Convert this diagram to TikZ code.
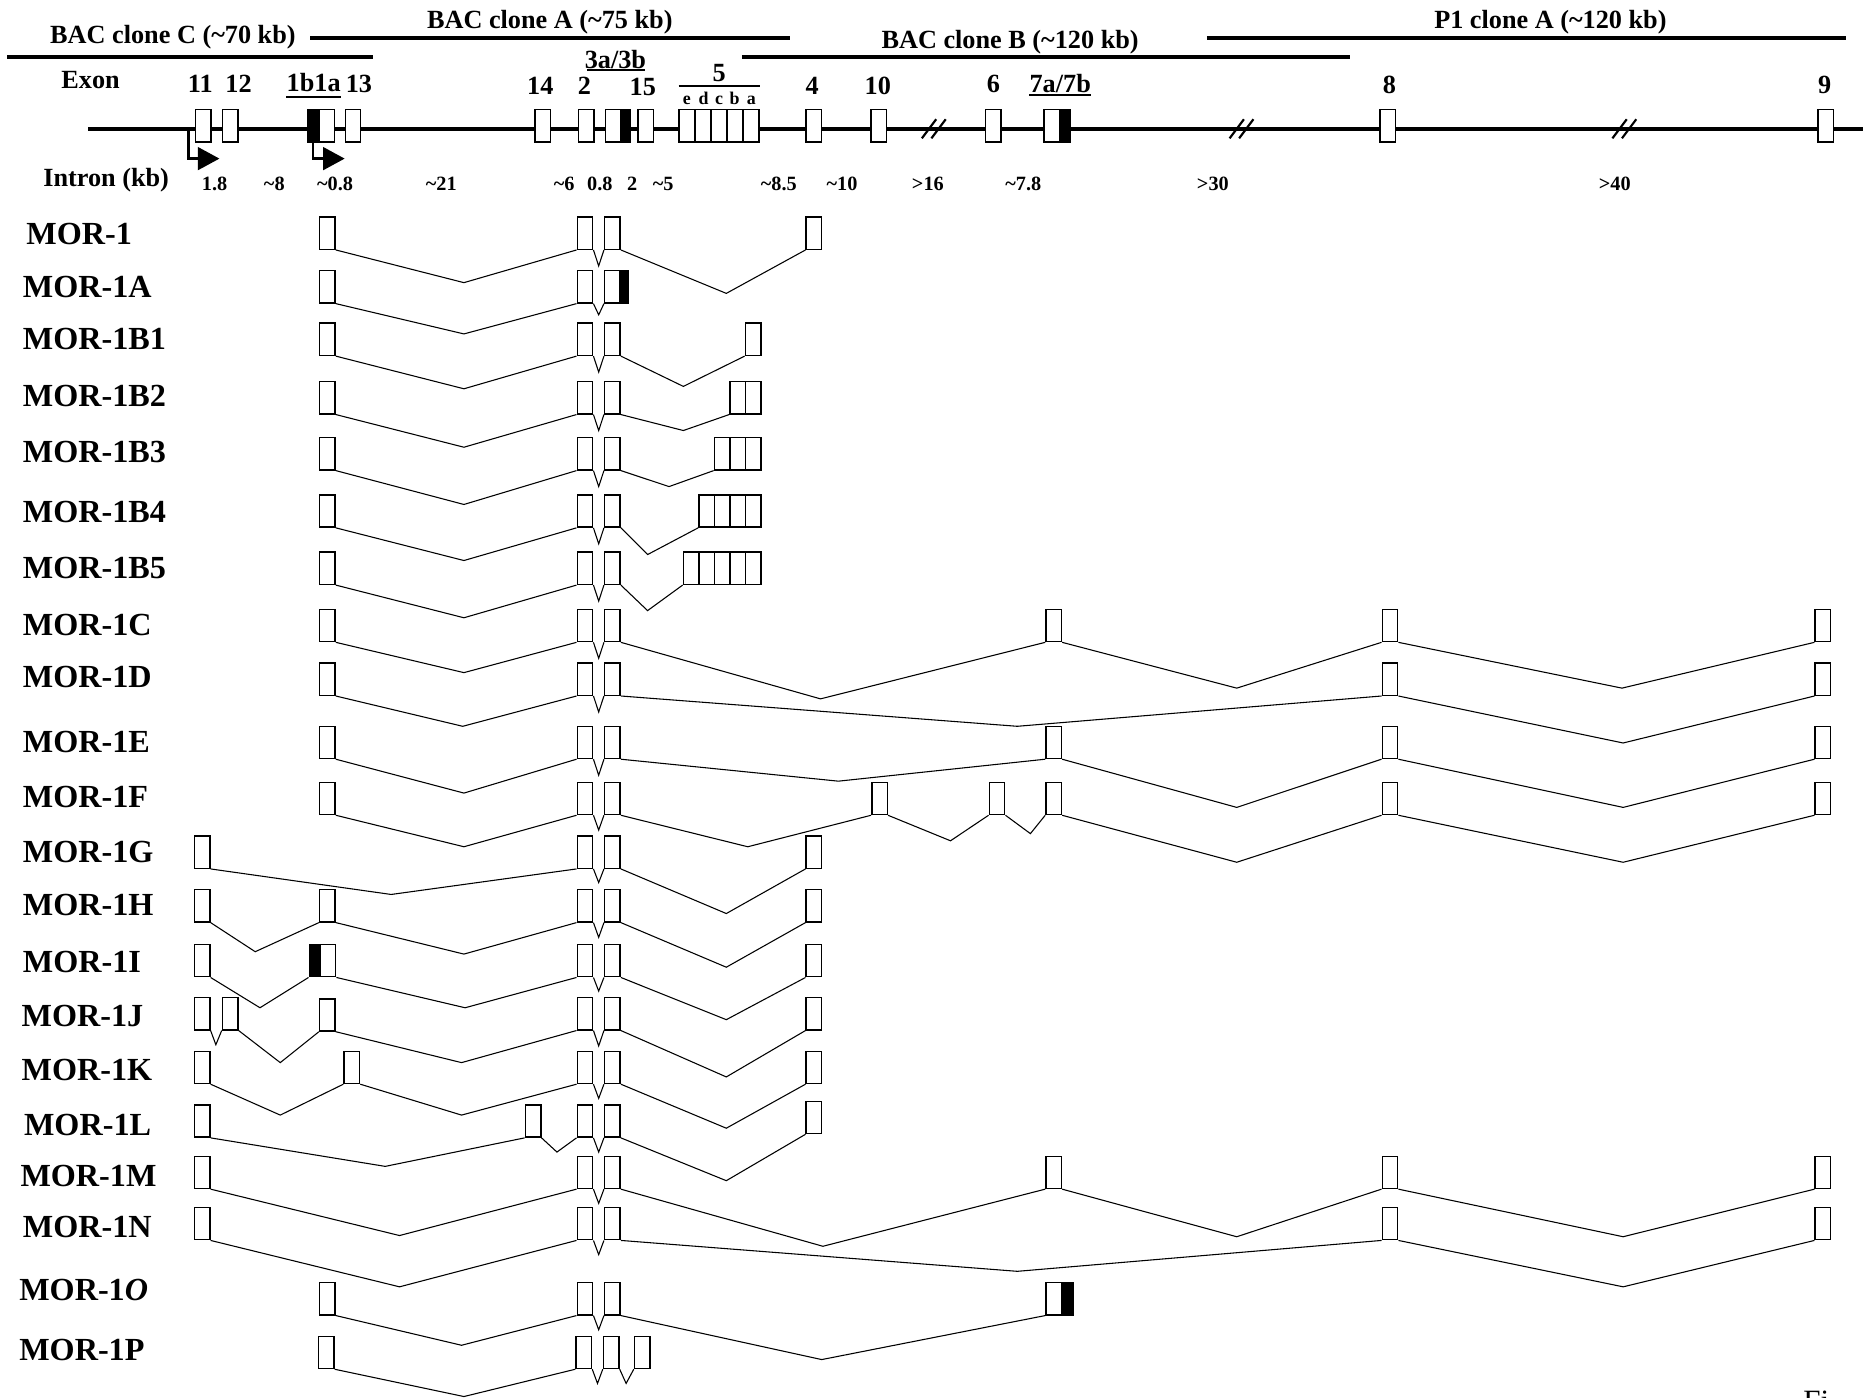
\documentclass[tikz,border=0pt]{standalone}
\usepackage{fontspec}
\setmainfont{Liberation Serif}
\usetikzlibrary{arrows.meta}

\begin{document}
\begin{tikzpicture}[
  x=1pt,y=-1pt,
  exon/.style={draw,line width=1.2pt,fill=white,minimum width=13pt,minimum height=27pt,inner sep=0pt},
  blackend/.style={exon,fill=black,minimum width=#1},
  blackend/.default=8pt,
  intron/.style={line width=0.9pt},
  clone/.style={line width=3pt},
  gene/.style={line width=3.4pt},
  slash/.style={line width=1.8pt},
  uline/.style={line width=1.8pt},
  head/.style={font=\fontsize{22}{22}\selectfont\bfseries,inner sep=0pt},
  kbtext/.style={font=\fontsize{17}{17}\selectfont\bfseries,inner sep=0pt},
  subtext/.style={font=\fontsize{15}{15}\selectfont\bfseries,inner sep=0pt,anchor=base},
  rowname/.style={font=\fontsize{27}{27}\selectfont\bfseries,inner sep=0pt,anchor=west},
  promoter/.style={line width=2pt,-{Triangle[length=18pt,width=19pt]}}
]
\useasboundingbox (0,0) rectangle (1568,1172);

% clones
\node[head] (bacA) at (461,19) {BAC clone A (\textasciitilde75 kb)};
\node[head] (bacC) at (145,31) {BAC clone C (\textasciitilde70 kb)};
\node[head] (bacB) at (847,35) {BAC clone B (\textasciitilde120 kb)};
\node[head] (p1A) at (1300,19) {P1 clone A (\textasciitilde120 kb)};
\draw[clone] (260,32) -- (662,32);
\draw[clone] (6,48) -- (313,48);
\draw[clone] (622,48) -- (1132,48);
\draw[clone] (1012,32) -- (1548,32);

% gene map
\coordinate (gstart) at (74,108);
\coordinate (gend) at (1562,108);
\draw[gene] (gstart) -- (gend);
\foreach \c in {783,1041,1362}
  \draw[slash] (\c-10,116) -- (\c+2,100) (\c-2,116) -- (\c+10,100);

\node[exon] (h11) at (170.5,105.5) {};
\node[exon] (h12) at (193,105.5) {};
\node[exon] (h1a) at (274,105.5) {};
\node[blackend,anchor=east] (h1b) at (h1a.west) {};
\node[exon] (h13) at (296,105.5) {};
\node[exon] (h14) at (455,105.5) {};
\node[exon] (h2) at (491.5,105.5) {};
\node[exon] (h3a) at (514,105.5) {};
\node[blackend=7pt,anchor=west] (h3b) at (h3a.east) {};
\node[exon] (h15) at (541.5,105.5) {};
\node[exon,minimum width=13.4pt] (h5e) at (576.2,105.5) {};
\node[exon,minimum width=13.4pt] (h5d) at (589.6,105.5) {};
\node[exon,minimum width=13.4pt] (h5c) at (603,105.5) {};
\node[exon,minimum width=13.4pt] (h5b) at (616.4,105.5) {};
\node[exon,minimum width=13.4pt] (h5a) at (629.8,105.5) {};
\node[exon] (h4) at (682.5,105.5) {};
\node[exon] (h10) at (737,105.5) {};
\node[exon] (h6) at (833,105.5) {};
\node[exon] (h7a) at (882,105.5) {};
\node[blackend,anchor=west] (h7b) at (h7a.east) {};
\node[exon] (h8) at (1163.5,105.5) {};
\node[exon] (h9) at (1531,105.5) {};

\coordinate (tss1) at (158,108);
\coordinate (tss1end) at (184,133);
\coordinate (tss2end) at (289,133);
\draw[promoter] (tss1) |- (tss1end);
\draw[promoter] (h1b.south) |- (tss2end);

% exon numbers
\node[head] (exonlab) at (76,67) {Exon};
\node[head] (n11) at (168,70) {11};
\node[head] (n12) at (200,70) {12};
\node[head] (n1b1a) at (263,69) {1b1a};
\node[head] (n13) at (301,70) {13};
\node[head] (n14) at (453,72) {14};
\node[head] (n2) at (490,72) {2};
\node[head] (n3) at (516,50) {3a/3b};
\node[head] (n15) at (539,73) {15};
\node[head] (n5) at (603,61) {5};
\node[head] (n4) at (681,72) {4};
\node[head] (n10) at (736,72) {10};
\node[head] (n6) at (833,70) {6};
\node[head] (n7) at (889,70) {7a/7b};
\node[head] (n8) at (1165,71) {8};
\node[head] (n9) at (1530,71) {9};
\draw[uline] (240,81) -- (286,81);
\draw[uline] (492,59) -- (541,59);
\draw[uline] (569,72) -- (637,72);
\draw[uline] (863,80) -- (915,80);
\node[subtext] (s5e) at (576,88) {e};
\node[subtext] (s5d) at (590,88) {d};
\node[subtext] (s5c) at (603,88) {c};
\node[subtext] (s5b) at (616,88) {b};
\node[subtext] (s5a) at (630,88) {a};

% intron sizes
\node[head] (intronlab) at (89,151) {Intron (kb)};
\node[kbtext] (k1) at (180,154) {1.8};
\node[kbtext] (k2) at (230,154) {\textasciitilde8};
\node[kbtext] (k3) at (281,154) {\textasciitilde0.8};
\node[kbtext] (k4) at (370,154) {\textasciitilde21};
\node[kbtext] (k5) at (473,154) {\textasciitilde6};
\node[kbtext] (k6) at (503,154) {0.8};
\node[kbtext] (k7) at (530,154) {2};
\node[kbtext] (k8) at (556,154) {\textasciitilde5};
\node[kbtext] (k9) at (653,154) {\textasciitilde8.5};
\node[kbtext] (k10) at (706,154) {\textasciitilde10};
\node[kbtext] (k11) at (778,154) {>16};
\node[kbtext] (k12) at (858,154) {\textasciitilde7.8};
\node[kbtext] (k13) at (1017,154) {>30};
\node[kbtext] (k14) at (1354,154) {>40};

% MOR-1
\node[rowname] (lab1) at (22,196) {MOR-1};
\node[exon] (r1-1) at (274.5,195.5) {}; \node[exon] (r1-2) at (490.5,195.5) {};
\node[exon] (r1-3) at (513.5,195.5) {}; \node[exon] (r1-4) at (682.5,195.5) {};
\draw[intron] (r1-1.south east) -- (389,237) -- (r1-2.south west)
  (r1-2.south east) -- (502,223) -- (r1-3.south west)
  (r1-3.south east) -- (609,246) -- (r1-4.south west);

% MOR-1A
\node[rowname] (labA) at (19,241) {MOR-1A};
\node[exon] (rA-1) at (274.5,240.5) {}; \node[exon] (rA-2) at (490.5,240.5) {};
\node[exon] (rA-3) at (513.5,240.5) {};
\node[blackend=6pt,anchor=west] (rA-3b) at (rA-3.east) {};
\draw[intron] (rA-1.south east) -- (389,280) -- (rA-2.south west)
  (rA-2.south east) -- (502,264) -- (rA-3.south west);

% MOR-1B1
\node[rowname] (labB1) at (19,284) {MOR-1B1};
\node[exon] (rB1-1) at (274.5,284.5) {}; \node[exon] (rB1-2) at (490.5,284.5) {};
\node[exon] (rB1-3) at (513.5,284.5) {}; \node[exon] (rB1-5a) at (631.5,284.5) {};
\draw[intron] (rB1-1.south east) -- (389,326) -- (rB1-2.south west)
  (rB1-2.south east) -- (502,312) -- (rB1-3.south west)
  (rB1-3.south east) -- (573,324) -- (rB1-5a.south west);

% MOR-1B2
\node[rowname] (labB2) at (19,332) {MOR-1B2};
\node[exon] (rB2-1) at (274.5,333.5) {}; \node[exon] (rB2-2) at (490.5,333.5) {};
\node[exon] (rB2-3) at (513.5,333.5) {};
\node[exon] (rB2-5b) at (618.5,333.5) {}; \node[exon] (rB2-5a) at (631.5,333.5) {};
\draw[intron] (rB2-1.south east) -- (389,375) -- (rB2-2.south west)
  (rB2-2.south east) -- (502,361) -- (rB2-3.south west)
  (rB2-3.south east) -- (573,361) -- (rB2-5b.south west);

% MOR-1B3
\node[rowname] (labB3) at (19,379) {MOR-1B3};
\node[exon] (rB3-1) at (274.5,380.5) {}; \node[exon] (rB3-2) at (490.5,380.5) {};
\node[exon] (rB3-3) at (513.5,380.5) {};
\node[exon] (rB3-5c) at (605.5,380.5) {}; \node[exon] (rB3-5b) at (618.5,380.5) {};
\node[exon] (rB3-5a) at (631.5,380.5) {};
\draw[intron] (rB3-1.south east) -- (389,423) -- (rB3-2.south west)
  (rB3-2.south east) -- (502,408) -- (rB3-3.south west)
  (rB3-3.south east) -- (561,408) -- (rB3-5c.south west);

% MOR-1B4
\node[rowname] (labB4) at (19,429) {MOR-1B4};
\node[exon] (rB4-1) at (274.5,428.5) {}; \node[exon] (rB4-2) at (490.5,428.5) {};
\node[exon] (rB4-3) at (513.5,428.5) {};
\node[exon] (rB4-5d) at (592.5,428.5) {}; \node[exon] (rB4-5c) at (605.5,428.5) {};
\node[exon] (rB4-5b) at (618.5,428.5) {}; \node[exon] (rB4-5a) at (631.5,428.5) {};
\draw[intron] (rB4-1.south east) -- (389,470) -- (rB4-2.south west)
  (rB4-2.south east) -- (502,456) -- (rB4-3.south west)
  (rB4-3.south east) -- (543,465) -- (rB4-5d.south west);

% MOR-1B5
\node[rowname] (labB5) at (19,476) {MOR-1B5};
\node[exon] (rB5-1) at (274.5,476.5) {}; \node[exon] (rB5-2) at (490.5,476.5) {};
\node[exon] (rB5-3) at (513.5,476.5) {};
\node[exon] (rB5-5e) at (579.5,476.5) {}; \node[exon] (rB5-5d) at (592.5,476.5) {};
\node[exon] (rB5-5c) at (605.5,476.5) {}; \node[exon] (rB5-5b) at (618.5,476.5) {};
\node[exon] (rB5-5a) at (631.5,476.5) {};
\draw[intron] (rB5-1.south east) -- (389,518) -- (rB5-2.south west)
  (rB5-2.south east) -- (502,504) -- (rB5-3.south west)
  (rB5-3.south east) -- (543,512) -- (rB5-5e.south west);

% MOR-1C
\node[rowname] (labC) at (19,524) {MOR-1C};
\node[exon] (rC-1) at (274.5,524.5) {}; \node[exon] (rC-2) at (490.5,524.5) {};
\node[exon] (rC-3) at (513.5,524.5) {}; \node[exon] (rC-7) at (883.5,524.5) {};
\node[exon] (rC-8) at (1165.5,524.5) {}; \node[exon] (rC-9) at (1528.5,524.5) {};
\draw[intron] (rC-1.south east) -- (389,564) -- (rC-2.south west)
  (rC-2.south east) -- (502,552) -- (rC-3.south west)
  (rC-3.south east) -- (688,586) -- (rC-7.south west)
  (rC-7.south east) -- (1037,577) -- (rC-8.south west)
  (rC-8.south east) -- (1360,577) -- (rC-9.south west);

% MOR-1D
\node[rowname] (labD) at (19,568) {MOR-1D};
\node[exon] (rD-1) at (274.5,569.5) {}; \node[exon] (rD-2) at (490.5,569.5) {};
\node[exon] (rD-3) at (513.5,569.5) {}; \node[exon] (rD-8) at (1165.5,569.5) {};
\node[exon] (rD-9) at (1528.5,569.5) {};
\draw[intron] (rD-1.south east) -- (388,609) -- (rD-2.south west)
  (rD-2.south east) -- (502,597) -- (rD-3.south west)
  (rD-3.south east) -- (853,609) -- (rD-8.south west)
  (rD-8.south east) -- (1361,623) -- (rD-9.south west);

% MOR-1E
\node[rowname] (labE) at (19,622) {MOR-1E};
\node[exon] (rE-1) at (274.5,622.5) {}; \node[exon] (rE-2) at (490.5,622.5) {};
\node[exon] (rE-3) at (513.5,622.5) {}; \node[exon] (rE-7) at (883.5,622.5) {};
\node[exon] (rE-8) at (1165.5,622.5) {}; \node[exon] (rE-9) at (1528.5,622.5) {};
\draw[intron] (rE-1.south east) -- (389,665) -- (rE-2.south west)
  (rE-2.south east) -- (502,650) -- (rE-3.south west)
  (rE-3.south east) -- (703,655) -- (rE-7.south west)
  (rE-7.south east) -- (1037,677) -- (rE-8.south west)
  (rE-8.south east) -- (1361,677) -- (rE-9.south west);

% MOR-1F
\node[rowname] (labF) at (19,668) {MOR-1F};
\node[exon] (rF-1) at (274.5,669.5) {}; \node[exon] (rF-2) at (490.5,669.5) {};
\node[exon] (rF-3) at (513.5,669.5) {}; \node[exon] (rF-10) at (737.5,669.5) {};
\node[exon] (rF-6) at (836,669.5) {}; \node[exon] (rF-7) at (883.5,669.5) {};
\node[exon] (rF-8) at (1165.5,669.5) {}; \node[exon] (rF-9) at (1528.5,669.5) {};
\draw[intron] (rF-1.south east) -- (389,710) -- (rF-2.south west)
  (rF-2.south east) -- (502,696) -- (rF-3.south west)
  (rF-3.south east) -- (627,710) -- (rF-10.south west)
  (rF-10.south east) -- (797,705) -- (rF-6.south west)
  (rF-6.south east) -- (864,699) -- (rF-7.south west)
  (rF-7.south east) -- (1037,723) -- (rF-8.south west)
  (rF-8.south east) -- (1361,723) -- (rF-9.south west);

% MOR-1G
\node[rowname] (labG) at (19,714) {MOR-1G};
\node[exon] (rG-11) at (169.5,714.5) {}; \node[exon] (rG-2) at (490.5,714.5) {};
\node[exon] (rG-3) at (513.5,714.5) {}; \node[exon] (rG-4) at (682.5,714.5) {};
\draw[intron] (rG-11.south east) -- (328,750) -- (rG-2.south west)
  (rG-2.south east) -- (502,740) -- (rG-3.south west)
  (rG-3.south east) -- (609,766) -- (rG-4.south west);

% MOR-1H
\node[rowname] (labH) at (19,759) {MOR-1H};
\node[exon] (rH-11) at (169.5,759.5) {}; \node[exon] (rH-1) at (274.5,759.5) {};
\node[exon] (rH-2) at (490.5,759.5) {}; \node[exon] (rH-3) at (513.5,759.5) {};
\node[exon] (rH-4) at (682.5,759.5) {};
\draw[intron] (rH-11.south east) -- (214,798) -- (rH-1.south west)
  (rH-1.south east) -- (389,800) -- (rH-2.south west)
  (rH-2.south east) -- (502,786) -- (rH-3.south west)
  (rH-3.south east) -- (609,811) -- (rH-4.south west);

% MOR-1I
\node[rowname] (labI) at (19,807) {MOR-1I};
\node[exon] (rI-11) at (169.5,805.5) {}; \node[exon] (rI-1) at (275,805.5) {};
\node[blackend,anchor=east] (rI-1b) at (rI-1.west) {};
\node[exon] (rI-2) at (490.5,805.5) {}; \node[exon] (rI-3) at (513.5,805.5) {};
\node[exon] (rI-4) at (682.5,805.5) {};
\draw[intron] (rI-11.south east) -- (218,845) -- (rI-1b.south west)
  (rI-1.south east) -- (390,845) -- (rI-2.south west)
  (rI-2.south east) -- (502,831) -- (rI-3.south west)
  (rI-3.south east) -- (609,855) -- (rI-4.south west);

% MOR-1J
\node[rowname] (labJ) at (18,852) {MOR-1J};
\node[exon] (rJ-11) at (169.5,850) {}; \node[exon] (rJ-12) at (193,850) {};
\node[exon] (rJ-1) at (274.5,851) {}; \node[exon] (rJ-2) at (490.5,850) {};
\node[exon] (rJ-3) at (513.5,850) {}; \node[exon] (rJ-4) at (682.5,850) {};
\draw[intron] (rJ-11.south east) -- (181,876) -- (rJ-12.south west)
  (rJ-12.south east) -- (235,891) -- (rJ-1.south west)
  (rJ-1.south east) -- (387,891) -- (rJ-2.south west)
  (rJ-2.south east) -- (502,877) -- (rJ-3.south west)
  (rJ-3.south east) -- (609,903) -- (rJ-4.south west);

% MOR-1K
\node[rowname] (labK) at (18,897) {MOR-1K};
\node[exon] (rK-11) at (169.5,895) {}; \node[exon] (rK-13) at (295,895) {};
\node[exon] (rK-2) at (490.5,895) {}; \node[exon] (rK-3) at (513.5,895) {};
\node[exon] (rK-4) at (682.5,895) {};
\draw[intron] (rK-11.south east) -- (235,935) -- (rK-13.south west)
  (rK-13.south east) -- (387,935) -- (rK-2.south west)
  (rK-2.south east) -- (502,921) -- (rK-3.south west)
  (rK-3.south east) -- (609,946) -- (rK-4.south west);

% MOR-1L
\node[rowname] (labL) at (20,943) {MOR-1L};
\node[exon] (rL-11) at (169.5,940) {}; \node[exon] (rL-14) at (447,940) {};
\node[exon] (rL-2) at (490.5,940) {}; \node[exon] (rL-3) at (513.5,940) {};
\node[exon] (rL-4) at (682.5,937) {};
\draw[intron] (rL-11.south east) -- (323,978) -- (rL-14.south west)
  (rL-14.south east) -- (467,966) -- (rL-2.south west)
  (rL-2.south east) -- (502,966) -- (rL-3.south west)
  (rL-3.south east) -- (609,990) -- (rL-4.south west);

% MOR-1M
\node[rowname] (labM) at (17,986) {MOR-1M};
\node[exon] (rM-11) at (169.5,983) {}; \node[exon] (rM-2) at (490.5,983) {};
\node[exon] (rM-3) at (513.5,983) {}; \node[exon] (rM-7) at (883.5,983) {};
\node[exon] (rM-8) at (1165.5,983) {}; \node[exon] (rM-9) at (1528.5,983) {};
\draw[intron] (rM-11.south east) -- (335,1036) -- (rM-2.south west)
  (rM-2.south east) -- (502,1009) -- (rM-3.south west)
  (rM-3.south east) -- (690,1045) -- (rM-7.south west)
  (rM-7.south east) -- (1037,1037) -- (rM-8.south west)
  (rM-8.south east) -- (1361,1037) -- (rM-9.south west);

% MOR-1N
\node[rowname] (labN) at (19,1029) {MOR-1N};
\node[exon] (rN-11) at (169.5,1026) {}; \node[exon] (rN-2) at (490.5,1026) {};
\node[exon] (rN-3) at (513.5,1026) {}; \node[exon] (rN-8) at (1165.5,1026) {};
\node[exon] (rN-9) at (1528.5,1026) {};
\draw[intron] (rN-11.south east) -- (335,1079) -- (rN-2.south west)
  (rN-2.south east) -- (502,1052) -- (rN-3.south west)
  (rN-3.south east) -- (853,1066) -- (rN-8.south west)
  (rN-8.south east) -- (1361,1079) -- (rN-9.south west);

% MOR-1O
\node[rowname] (labO) at (16,1082) {MOR-1\textit{O}};
\node[exon] (rO-1) at (274.5,1089) {}; \node[exon] (rO-2) at (490.5,1089) {};
\node[exon] (rO-3) at (513.5,1089) {}; \node[exon] (rO-7) at (883.5,1089) {};
\node[blackend=9pt,anchor=west] (rO-7b) at (rO-7.east) {};
\draw[intron] (rO-1.south east) -- (387,1128) -- (rO-2.south west)
  (rO-2.south east) -- (502,1115) -- (rO-3.south west)
  (rO-3.south east) -- (689,1140) -- (rO-7.south west);

% MOR-1P
\node[rowname] (labP) at (16,1132) {MOR-1P};
\node[exon] (rP-1) at (273.5,1134) {}; \node[exon] (rP-2) at (489.5,1134) {};
\node[exon] (rP-3) at (512.5,1134) {}; \node[exon] (rP-15) at (538.5,1134) {};
\draw[intron] (rP-1.south east) -- (389,1171) -- (rP-2.south west)
  (rP-2.south east) -- (501,1160) -- (rP-3.south west)
  (rP-3.south east) -- (525,1160) -- (rP-15.south west);

\node[font=\fontsize{26}{26}\selectfont,inner sep=0pt,anchor=north west] (figtag) at (1512,1166) {Fi};
\end{tikzpicture}
\end{document}
